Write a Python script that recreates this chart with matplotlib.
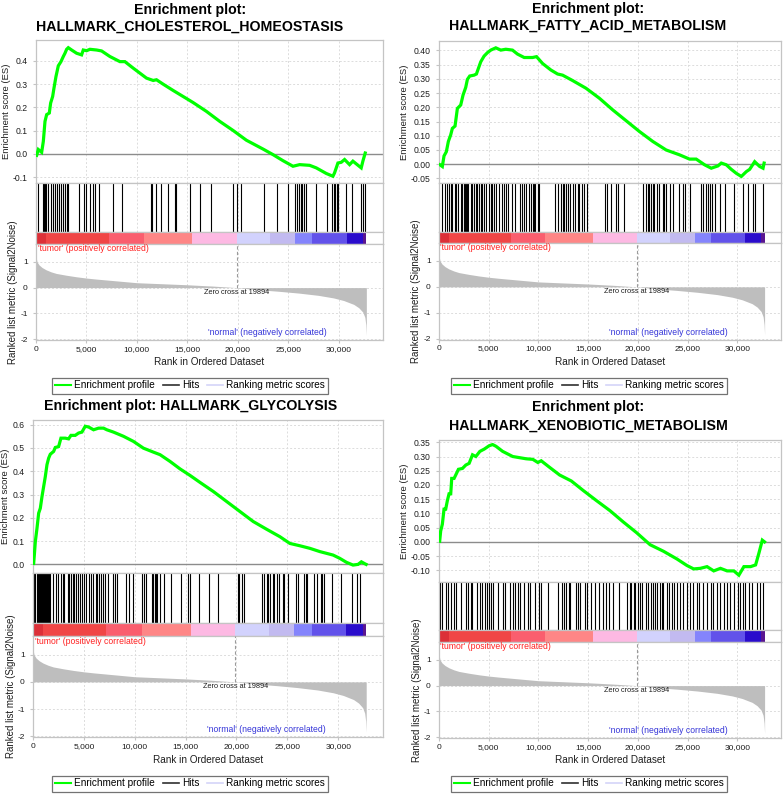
import matplotlib
matplotlib.use('Agg')
import matplotlib.pyplot as plt
from matplotlib.lines import Line2D
from matplotlib.ticker import FuncFormatter, FixedLocator

plt.rcParams['font.family'] = ['Liberation Sans', 'DejaVu Sans']
plt.rcParams['axes.unicode_minus'] = False

W, H = 784, 795

# ---------------- shared ranked list data ----------------
metric_rank = [0, 100, 300, 600, 1000, 1500, 2000, 3000, 4000, 5000, 6000, 8000,
               10000, 12500, 15000, 17500, 19894, 22000, 24000, 26000, 28000,
               29500, 30500, 31500, 32000, 32400, 32600, 32700, 32750]
metric_value = [1.2, 1.0, 0.88, 0.78, 0.69, 0.61, 0.55, 0.48, 0.42, 0.37, 0.33, 0.26,
                0.19, 0.15, 0.11, 0.06, 0.0, -0.08, -0.14, -0.21, -0.30,
                -0.40, -0.50, -0.65, -0.78, -0.95, -1.15, -1.45, -1.85]
zero_cross = 19894
heat_bounds = [0, 1000, 7200, 10700, 15500, 19894, 23200, 25700, 27400, 30800, 32400, 32750]
heat_colors = ['#dc3038', '#f04646', '#fa5e6e', '#fe8686', '#fdb9e3', '#d2d2fd',
               '#c2baf0', '#8484fc', '#6252ea', '#2a0ccc', '#5a1690']
x_ticks = [0, 5000, 10000, 15000, 20000, 25000, 30000]
rank_ticks = [-2, -1, 0, 1]

# ---------------- panel 1: cholesterol homeostasis ----------------
title_1 = ['Enrichment plot:', 'HALLMARK_CHOLESTEROL_HOMEOSTASIS']
es_rank_1 = [66, 231, 561, 726, 891, 1056, 1320, 1452, 1650, 1782, 1980, 2211, 2475, 2706,
             2871, 3036, 3201, 3531, 4026, 4521, 4686, 5016, 5346, 6006, 6501, 7326, 8316,
             8811, 9636, 10956, 11616, 11946, 12606, 13596, 14586, 15576, 16896, 18216,
             19536, 20856, 22506, 23496, 24486, 25476, 26136, 27126, 27786, 28776, 29436,
             29601, 29931, 30261, 30591, 31086, 31416, 32241, 32406, 32637]
es_value_1 = [-0.006, 0.019, 0.007, 0.054, 0.14, 0.169, 0.176, 0.219, 0.247, 0.283, 0.333,
              0.379, 0.397, 0.419, 0.433, 0.45, 0.457, 0.447, 0.433, 0.426, 0.447, 0.444,
              0.45, 0.447, 0.443, 0.419, 0.397, 0.397, 0.369, 0.326, 0.316, 0.319, 0.30,
              0.273, 0.247, 0.221, 0.183, 0.14, 0.101, 0.059, 0.021, -0.003, -0.029,
              -0.053, -0.046, -0.049, -0.06, -0.084, -0.096, -0.081, -0.039, -0.036,
              -0.024, -0.046, -0.031, -0.06, -0.031, 0.004]
hits_1 = [231, 660, 759, 858, 990, 1221, 1452, 1650, 1881, 2046, 2244, 2475, 2706, 2871,
          3102, 3201, 4257, 4785, 4917, 5346, 5610, 5874, 6237, 7656, 8514, 11385, 11517,
          11880, 12441, 13101, 13761, 13926, 15312, 16302, 17391, 19536, 19932, 20295,
          22605, 23892, 24981, 25707, 25905, 26070, 26235, 26400, 26565, 26796, 27786,
          28875, 29370, 29502, 29667, 29832, 29931, 30690, 31350, 32241, 32406, 32571]
es_ticks_1 = [-0.1, 0.0, 0.1, 0.2, 0.3, 0.4]

# ---------------- panel 2: fatty acid metabolism ----------------
title_2 = ['Enrichment plot:', 'HALLMARK_FATTY_ACID_METABOLISM']
es_rank_2 = [100, 336, 504, 739, 941, 1176, 1344, 1613, 1848, 2184, 2419, 2688, 2856, 3091,
             3528, 3763, 3965, 4200, 4536, 4872, 5208, 5712, 6216, 6720, 7392, 7896, 8568,
             9408, 9811, 10416, 11256, 11928, 12432, 13440, 14784, 16128, 17472, 18816,
             20160, 21504, 22848, 24192, 25200, 25872, 26712, 27384, 28056, 28392, 28896,
             29400, 29904, 30408, 30912, 31248, 31752, 32256, 32592, 32700]
es_value_2 = [-0.002, -0.008, 0.029, 0.044, 0.08, 0.103, 0.126, 0.134, 0.196, 0.208, 0.243,
              0.27, 0.298, 0.31, 0.313, 0.317, 0.337, 0.36, 0.38, 0.392, 0.401, 0.409,
              0.401, 0.404, 0.401, 0.387, 0.375, 0.375, 0.378, 0.354, 0.331, 0.317, 0.313,
              0.294, 0.267, 0.232, 0.191, 0.153, 0.115, 0.08, 0.05, 0.033, 0.018, 0.018,
              -0.002, -0.014, -0.006, 0.004, -0.002, -0.018, -0.032, -0.043, -0.026,
              -0.018, 0.009, -0.008, -0.014, 0.004]
hits_2 = [333, 568, 769, 1005, 1173, 1341, 1576, 1744, 1945, 2181, 2349, 2517, 2618, 2719,
          2820, 2954, 3189, 3357, 3525, 3693, 3861, 4029, 4197, 4365, 4533, 4701, 5037,
          5205, 5373, 5541, 5709, 6045, 6381, 6549, 6717, 6986, 7389, 7658, 8128, 8330,
          8565, 8800, 9069, 9237, 9405, 9539, 9674, 9909, 10077, 11690, 11925, 12261,
          12429, 12597, 12765, 12933, 13168, 13437, 13706, 13941, 14109, 14378, 14613,
          14848, 16730, 16864, 17301, 17805, 17973, 18645, 20560, 20829, 20997, 21165,
          21333, 21501, 21669, 21904, 22173, 22509, 22677, 22845, 23248, 23517, 24122,
          24525, 24794, 25197, 26373, 26541, 26810, 27045, 27213, 27482, 27717, 28221,
          28725, 29666, 30573, 31077, 31581, 31749, 32589]
es_ticks_2 = [-0.05, 0.0, 0.05, 0.10, 0.15, 0.20, 0.25, 0.30, 0.35, 0.40]

# ---------------- panel 3: glycolysis ----------------
title_3 = ['Enrichment plot: HALLMARK_GLYCOLYSIS']
es_rank_3 = [65, 131, 229, 392, 556, 719, 883, 1046, 1210, 1373, 1537, 1700, 2027, 2191,
             2518, 2747, 3172, 3499, 3728, 4153, 4480, 4807, 5134, 5461, 5951, 6442, 6932,
             7259, 7913, 8894, 9875, 10856, 11837, 12491, 13472, 14453, 15434, 16415,
             17723, 19031, 20339, 21647, 22955, 24263, 25244, 26225, 27206, 28187, 29495,
             30149, 30803, 31457, 31948, 32275, 32602, 32740]
es_value_3 = [0.004, 0.04, 0.098, 0.155, 0.22, 0.241, 0.291, 0.334, 0.377, 0.428, 0.456,
              0.473, 0.485, 0.502, 0.506, 0.542, 0.542, 0.539, 0.554, 0.554, 0.564, 0.568,
              0.593, 0.59, 0.578, 0.585, 0.585, 0.578, 0.568, 0.55, 0.528, 0.499, 0.482,
              0.471, 0.442, 0.41, 0.382, 0.352, 0.313, 0.27, 0.227, 0.184, 0.151, 0.119,
              0.09, 0.08, 0.069, 0.055, 0.04, 0.026, 0.009, -0.003, 0.0, 0.011, 0.003, 0.0]
hits_3 = [95, 193, 356, 519, 600, 683, 760, 846, 930, 1009, 1090, 1173, 1250, 1336, 1420,
          1499, 1580, 1663, 1990, 2218, 2479, 2708, 2904, 3067, 3394, 3525, 3721, 3884,
          4047, 4211, 4374, 4603, 4864, 5027, 5256, 5485, 5681, 5909, 6171, 6334, 6497,
          6726, 6889, 7053, 7379, 7869, 8033, 8294, 9176, 9437, 9829, 10711, 10907,
          11136, 11691, 11822, 11953, 12083, 12214, 12508, 12867, 13521, 14566, 15219,
          15448, 16363, 17277, 18159, 20119, 20282, 20543, 20772, 22503, 22732, 22993,
          23124, 23320, 23549, 23712, 23973, 24202, 24529, 24692, 25019, 25835, 25999,
          26587, 26815, 26979, 27633, 27959, 28286, 28449, 28613, 29429, 30246, 31389,
          31879, 32141]
es_ticks_3 = [0.0, 0.1, 0.2, 0.3, 0.4, 0.5, 0.6]

# ---------------- panel 4: xenobiotic metabolism ----------------
title_4 = ['Enrichment plot:', 'HALLMARK_XENOBIOTIC_METABOLISM']
es_rank_4 = [67, 168, 337, 505, 674, 842, 1011, 1179, 1280, 1516, 1752, 1954, 2359, 2696,
             3033, 3370, 3707, 4111, 4549, 5055, 5392, 5729, 6403, 7414, 8088, 8762, 9436,
             9942, 10279, 11121, 12132, 13312, 14491, 15839, 17187, 18535, 19883, 21231,
             22579, 23927, 24938, 25612, 26286, 26960, 27634, 28308, 28982, 29656, 30162,
             30667, 31341, 31846, 32183, 32520, 32740]
es_value_4 = [0.002, 0.038, 0.062, 0.115, 0.115, 0.145, 0.169, 0.169, 0.223, 0.223, 0.24,
              0.255, 0.258, 0.27, 0.276, 0.306, 0.30, 0.318, 0.326, 0.338, 0.342, 0.336,
              0.318, 0.30, 0.296, 0.292, 0.29, 0.279, 0.285, 0.262, 0.235, 0.214, 0.181,
              0.145, 0.11, 0.07, 0.032, -0.01, -0.033, -0.06, -0.083, -0.095, -0.093,
              -0.087, -0.102, -0.093, -0.102, -0.102, -0.117, -0.087, -0.087, -0.081,
              -0.039, 0.006, 0.0]
hits_4 = [64, 333, 670, 939, 1175, 1512, 1747, 2185, 2690, 2959, 3195, 3363, 3868, 4104,
          4373, 4643, 4811, 4979, 5215, 5383, 5888, 6393, 6663, 7134, 7403, 7673, 7908,
          8144, 8582, 8919, 9188, 9693, 10030, 10266, 10939, 11949, 12387, 12555, 12790,
          13060, 13194, 13733, 13969, 14205, 14642, 14878, 15316, 15652, 16090, 16494,
          16764, 17100, 17504, 18110, 18952, 19188, 19356, 19592, 19760, 20029, 20197,
          20466, 20803, 21039, 21275, 21477, 21712, 21948, 22217, 22386, 22554, 22891,
          23160, 23396, 23631, 23901, 24237, 24574, 24911, 25248, 25584, 25921, 26190,
          26527, 26931, 27368, 27604, 27941, 28277, 28681, 28951, 29220, 29624, 30062,
          30298, 30567, 30803, 31140, 31476, 31981, 32318, 32587]
es_ticks_4 = [-0.10, -0.05, 0.0, 0.05, 0.10, 0.15, 0.20, 0.25, 0.30, 0.35]

legend_labels = ['Enrichment profile', 'Hits', 'Ranking metric scores']

fig = plt.figure(figsize=(W / 100, H / 100), dpi=100)

FRAME = '#c4c4c4'
GRID = '#dcdcdc'
TXT = '#1e1e1e'


def add_ax(l, t, r, b):
    return fig.add_axes([l / W, 1 - b / H, (r - l) / W, (b - t) / H])


def style(ax):
    for s in ax.spines.values():
        s.set_color(FRAME)
        s.set_linewidth(0.9)


def draw_panel(lay, title, es_rank, es_value, hits, es_ticks, es_fmt, es_ylim):
    l, r = lay['left'], lay['right']
    xmax = 34400
    # title
    for txt, ty in zip(title, lay['title_y']):
        fig.text(lay['title_x'] / W, 1 - ty / H, txt, ha='center', va='center',
                 fontsize=10.2, fontweight='bold', color='black')
    # ES axes
    ax1 = add_ax(l, lay['es_top'], r, lay['hits_top'])
    style(ax1)
    ax1.plot(es_rank, es_value, color='#00ff00', lw=2.3, solid_joinstyle='miter',
             zorder=3)
    ax1.axhline(0, color='#8c8c8c', lw=1.0, zorder=2)
    ax1.set_xlim(0, xmax)
    ax1.set_ylim(*es_ylim)
    ax1.xaxis.set_major_locator(FixedLocator(x_ticks))
    ax1.yaxis.set_major_locator(FixedLocator(es_ticks))
    ax1.yaxis.set_major_formatter(FuncFormatter(lambda v, p: es_fmt % v))
    ax1.tick_params(axis='x', bottom=False, labelbottom=False)
    ax1.tick_params(axis='y', length=2, color=FRAME, labelsize=6.2, pad=4, labelcolor=TXT)
    ax1.grid(True, color=GRID, ls=(0, (2, 2)), lw=0.7)
    ax1.set_axisbelow(True)
    ax1.set_ylabel('Enrichment score (ES)', fontsize=6.8, color=TXT)
    ax1.yaxis.set_label_coords(lay['es_label_dx'] / (r - l), 0.5)
    # hits axes
    ax2 = add_ax(l, lay['hits_top'], r, lay['heat_top'])
    style(ax2)
    ax2.vlines(hits, 0, 1, color='black', lw=0.8)
    ax2.set_xlim(0, xmax)
    ax2.set_ylim(0, 1)
    ax2.xaxis.set_major_locator(FixedLocator(x_ticks))
    ax2.grid(True, axis='x', color=GRID, ls=(0, (2, 2)), lw=0.7)
    ax2.set_axisbelow(True)
    ax2.set_yticks([])
    ax2.tick_params(axis='x', bottom=False, labelbottom=False)
    # heat bar
    ax3 = add_ax(l, lay['heat_top'], r, lay['rank_top'])
    style(ax3)
    for a, b, c in zip(heat_bounds[:-1], heat_bounds[1:], heat_colors):
        ax3.axvspan(a, b, color=c, lw=0)
    ax3.set_xlim(0, xmax)
    ax3.set_xticks([])
    ax3.set_yticks([])
    # ranked list
    ax4 = add_ax(l, lay['rank_top'], r, lay['bottom'])
    style(ax4)
    ax4.fill_between(metric_rank, 0, metric_value, color='#bebebe', lw=0, zorder=2)
    ax4.set_xlim(0, xmax)
    ax4.set_ylim(-2.03, 1.69)
    ax4.xaxis.set_major_locator(FixedLocator(x_ticks))
    ax4.xaxis.set_major_formatter(FuncFormatter(lambda v, p: '{:,.0f}'.format(v)))
    ax4.yaxis.set_major_locator(FixedLocator(rank_ticks))
    ax4.tick_params(axis='both', length=2, color=FRAME, labelsize=6.0, labelcolor=TXT)
    ax4.tick_params(axis='y', pad=4)
    ax4.tick_params(axis='x', pad=2)
    ax4.grid(True, color=GRID, ls=(0, (2, 2)), lw=0.7)
    ax4.set_axisbelow(True)
    ax4.plot([zero_cross, zero_cross], [0, 1.69], color='#9a9a9a', lw=0.8,
             ls=(0, (3, 2)), zorder=3)
    ax4.text(zero_cross, -0.17, 'Zero cross at ' + str(zero_cross), ha='center',
             va='center', fontsize=5.3, color=TXT, zorder=4)
    ax4.text(150, 1.5, "'tumor' (positively correlated)", ha='left', va='center',
             fontsize=6.2, color='#ff2020', zorder=4)
    ax4.text(17075, -1.75, "'normal' (negatively correlated)", ha='left', va='center',
             fontsize=6.2, color='#3434d8', zorder=4)
    ax4.set_xlabel('Rank in Ordered Dataset', fontsize=7.2, color=TXT)
    ax4.xaxis.set_label_coords(0.5, -(lay['xlabel_y'] - lay['bottom']) /
                               (lay['bottom'] - lay['rank_top']))
    ax4.set_ylabel('Ranked list metric (Signal2Noise)', fontsize=7.0, color=TXT)
    ax4.yaxis.set_label_coords(lay['rank_label_dx'] / (r - l), 0.5)
    ax4.yaxis.label.set_va('center')
    ax1.yaxis.label.set_va('center')
    ax4.xaxis.label.set_va('center')
    # legend
    handles = [Line2D([], [], color='#00ff00', lw=1.5),
               Line2D([], [], color='#303030', lw=1.2),
               Line2D([], [], color='#d4d4f8', lw=1.2)]
    leg = fig.legend(handles, legend_labels, loc='center', ncol=3,
                     bbox_to_anchor=(lay['leg_x'] / W, 1 - lay['leg_y'] / H),
                     fontsize=7.2, frameon=True, fancybox=False, handlelength=1.6,
                     handletextpad=0.3, columnspacing=0.8, borderpad=0.3)
    leg.get_frame().set_edgecolor('#505050')
    leg.get_frame().set_linewidth(0.9)


layouts = [
    dict(left=36, right=383, es_top=40, hits_top=183, heat_top=232, rank_top=244,
         bottom=340, title_x=190, title_y=[10, 27], xlabel_y=362, es_label_dx=-29,
         rank_label_dx=-23, leg_x=190, leg_y=385.5),
    dict(left=439, right=781, es_top=41, hits_top=183, heat_top=232, rank_top=243,
         bottom=339.5, title_x=588, title_y=[9.5, 26], xlabel_y=362, es_label_dx=-34.5,
         rank_label_dx=-23, leg_x=589, leg_y=385.5),
    dict(left=33, right=383, es_top=420, hits_top=573, heat_top=623, rank_top=636,
         bottom=737, title_x=190.5, title_y=[406], xlabel_y=760, es_label_dx=-27,
         rank_label_dx=-22, leg_x=190, leg_y=783.5),
    dict(left=439, right=781, es_top=440, hits_top=582, heat_top=630, rank_top=642,
         bottom=738, title_x=588, title_y=[407, 426], xlabel_y=760, es_label_dx=-34.5,
         rank_label_dx=-22, leg_x=589, leg_y=783.5),
]

draw_panel(layouts[0], title_1, es_rank_1, es_value_1, hits_1, es_ticks_1, '%.1f', (-0.125, 0.49))
draw_panel(layouts[1], title_2, es_rank_2, es_value_2, hits_2, es_ticks_2, '%.2f', (-0.066, 0.433))
draw_panel(layouts[2], title_3, es_rank_3, es_value_3, hits_3, es_ticks_3, '%.1f', (-0.037, 0.62))
draw_panel(layouts[3], title_4, es_rank_4, es_value_4, hits_4, es_ticks_4, '%.2f', (-0.141, 0.358))

fig.savefig('out.png', dpi=100)
